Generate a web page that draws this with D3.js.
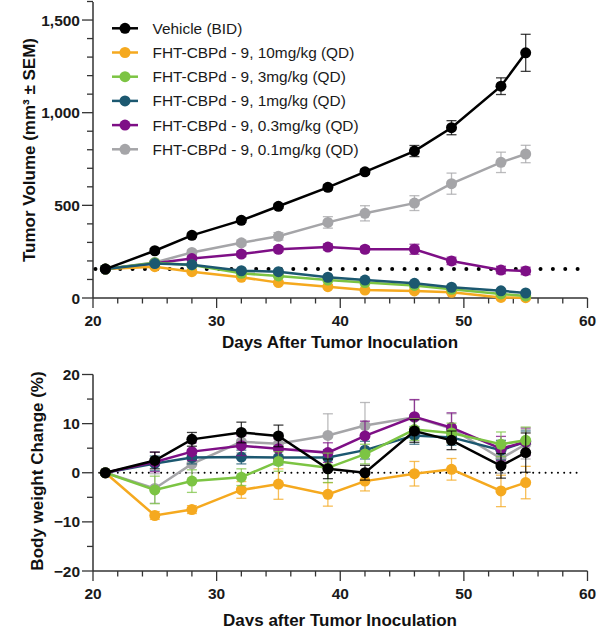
<!DOCTYPE html>
<html>
<head>
<meta charset="utf-8">
<script src="https://cdn.jsdelivr.net/npm/d3@7"></script>
<style>
  body { margin: 0; background: #fff; }
  svg { display: block; font-family: "Liberation Sans", Arial, sans-serif; }
</style>
</head>
<body>
<svg id="chart" width="613" height="626"></svg>
<script>
// days of measurement, shared by both panels
const days = [21, 25, 28, 32, 35, 39, 42, 46, 49, 53, 55];

const groups = ['Vehicle (BID)', 'FHT-CBPd - 9, 10mg/kg (QD)', 'FHT-CBPd - 9, 3mg/kg (QD)',
  'FHT-CBPd - 9, 1mg/kg (QD)', 'FHT-CBPd - 9, 0.3mg/kg (QD)', 'FHT-CBPd - 9, 0.1mg/kg (QD)'];
const colors = ['#000000', '#f5a91f', '#7cc443', '#1c5870', '#7e0f86', '#a5a5a8'];

// tumour volume, mm3
const volVehicle = [156, 255, 338, 419, 495, 597, 681, 793, 919, 1143, 1323];
const volVehicleErr = [8, 12, 12, 12, 12, 14, 14, 30, 38, 45, 100];
const vol10 = [156, 169, 142, 112, 83, 61, 43, 38, 31, 3, 2];
const vol10Err = [6, 8, 8, 7, 6, 6, 5, 5, 5, 3, 3];
const vol3 = [156, 190, 178, 133, 119, 97, 83, 68, 47, 22, 11];
const vol3Err = [6, 10, 9, 8, 7, 7, 6, 6, 6, 4, 4];
const vol1 = [156, 186, 180, 147, 142, 112, 97, 79, 58, 39, 27];
const vol1Err = [6, 9, 8, 8, 8, 7, 7, 7, 6, 5, 5];
const vol03 = [156, 188, 213, 237, 263, 275, 263, 263, 200, 151, 146];
const vol03Err = [6, 10, 12, 14, 14, 16, 15, 27, 20, 20, 20];
const vol01 = [156, 192, 246, 298, 333, 408, 457, 512, 617, 732, 777];
const vol01Err = [6, 10, 12, 15, 20, 31, 41, 40, 57, 55, 47];

// body weight change, %
const bwVehicle = [0, 2.5, 6.8, 8.2, 7.5, 0.8, 0.0, 8.5, 6.6, 1.4, 4.1];
const bwVehicleErr = [0, 1.7, 1.4, 2.1, 2.2, 2.0, 1.5, 2.3, 1.9, 2.5, 4.0];
const bw10 = [0, -8.7, -7.5, -3.5, -2.3, -4.4, -1.7, -0.2, 0.7, -3.7, -2.0];
const bw10Err = [0, 0.8, 0.8, 1.7, 3.1, 2.4, 2.0, 2.5, 2.2, 3.2, 3.3];
const bw3 = [0, -3.5, -1.7, -0.9, 2.3, 1.0, 3.8, 8.8, 8.1, 5.8, 6.6];
const bw3Err = [0, 2.8, 2.3, 1.7, 2.0, 3.0, 2.0, 2.2, 2.0, 2.5, 2.7];
const bw1 = [0, 1.9, 3.1, 3.2, 3.1, 3.1, 4.6, 7.6, 7.2, 4.6, 6.3];
const bw1Err = [0, 1.5, 1.3, 1.4, 1.5, 1.6, 1.8, 1.8, 1.6, 2.0, 2.2];
const bw03 = [0, 2.2, 4.3, 5.5, 4.9, 4.1, 7.5, 11.4, 9.2, 4.9, 6.3];
const bw03Err = [0, 2.0, 1.8, 2.0, 2.0, 2.0, 3.0, 3.5, 3.0, 2.5, 2.8];
const bw01 = [0, -3.2, 1.8, 6.3, 5.9, 7.6, 9.6, 11.3, 9.0, 2.9, 5.8];
const bw01Err = [0, 3.0, 1.8, 2.2, 2.2, 4.4, 4.7, 3.5, 3.0, 3.0, 3.0];

const volSeries = [volVehicle, vol10, vol3, vol1, vol03, vol01];
const volErrs = [volVehicleErr, vol10Err, vol3Err, vol1Err, vol03Err, vol01Err];
const bwSeries = [bwVehicle, bw10, bw3, bw1, bw03, bw01];
const bwErrs = [bwVehicleErr, bw10Err, bw3Err, bw1Err, bw03Err, bw01Err];

const volTicks = [0, 500, 1000, 1500];
const bwTicks = [-20, -10, 0, 10, 20];
const dayTicks = [20, 30, 40, 50, 60];

// draw order, back to front
const topOrder = [5, 4, 1, 2, 3, 0];
const botOrder = [1, 5, 3, 4, 2, 0];

const svg = d3.select('#chart');
const axisColor = '#333';
const tickFont = 15.5;
const titleFont = 17;

const x = d3.scaleLinear().domain([20, 60]).range([93, 587.5]);
const yVol = d3.scaleLinear().domain([0, 1600]).range([298, 1.5]);
const yBw = d3.scaleLinear().domain([-20, 20]).range([571, 374.5]);

function drawAxes (g, y, yMajor, yMinorStep, yFmt, yTop) {
  const x0 = x.range()[0];
  const y0 = y.range()[0];
  // y axis
  g.append('line')
    .attr('x1', x0).attr('x2', x0)
    .attr('y1', y0).attr('y2', yTop)
    .attr('stroke', axisColor).attr('stroke-width', 1.5);
  const [lo, hi] = y.domain();
  d3.range(lo, hi + 0.001, yMinorStep).forEach(v => {
    if (y(v) < yTop - 0.5) { return; }
    const major = yMajor.includes(v);
    g.append('line')
      .attr('x1', x0 - (major ? 11 : 6)).attr('x2', x0)
      .attr('y1', y(v)).attr('y2', y(v))
      .attr('stroke', axisColor).attr('stroke-width', 1.3);
  });
  yMajor.forEach(v => {
    g.append('text')
      .attr('x', x0 - 13).attr('y', y(v) + 5.5)
      .attr('text-anchor', 'end')
      .attr('font-size', tickFont).attr('font-weight', 700)
      .attr('fill', '#1a1a1a')
      .text(yFmt(v));
  });
  // x axis
  g.append('line')
    .attr('x1', x0).attr('x2', x.range()[1])
    .attr('y1', y0).attr('y2', y0)
    .attr('stroke', axisColor).attr('stroke-width', 1.5);
  d3.range(20, 60.001, 2).forEach(d => {
    const major = d % 10 === 0;
    g.append('line')
      .attr('x1', x(d)).attr('x2', x(d))
      .attr('y1', y0).attr('y2', y0 + (major ? 10 : 5.5))
      .attr('stroke', axisColor).attr('stroke-width', 1.3);
  });
  dayTicks.forEach(d => {
    g.append('text')
      .attr('x', x(d)).attr('y', y0 + 28)
      .attr('text-anchor', 'middle')
      .attr('font-size', tickFont).attr('font-weight', 700)
      .attr('fill', '#1a1a1a')
      .text(d);
  });
}

function drawSeries (g, y, series, errs, order, r) {
  order.forEach(i => {
    const pts = days.map((d, k) => ({ d: d, v: series[i][k], e: errs[i][k] }));
    const s = g.append('g');
    // error bars
    pts.forEach(p => {
      if (!p.e) { return; }
      const cx = x(p.d);
      const yt = y(p.v + p.e);
      const yb = y(p.v - p.e);
      s.append('line')
        .attr('x1', cx).attr('x2', cx).attr('y1', yt).attr('y2', yb)
        .attr('stroke', colors[i]).attr('stroke-width', 1.3).attr('opacity', 0.75);
      [yt, yb].forEach(yy => {
        s.append('line')
          .attr('x1', cx - 5).attr('x2', cx + 5).attr('y1', yy).attr('y2', yy)
          .attr('stroke', colors[i]).attr('stroke-width', 1.3).attr('opacity', 0.75);
      });
    });
    s.append('path')
      .datum(pts)
      .attr('d', d3.line().x(p => x(p.d)).y(p => y(p.v)))
      .attr('fill', 'none')
      .attr('stroke', colors[i])
      .attr('stroke-width', 2.5);
    s.selectAll('circle')
      .data(pts)
      .join('circle')
      .attr('cx', p => x(p.d))
      .attr('cy', p => y(p.v))
      .attr('r', r)
      .attr('fill', colors[i]);
  });
}

// ---- top panel: tumour volume
const volPanel = svg.append('g');
drawAxes(volPanel, yVol, volTicks, 100, d3.format(','), 2);

volPanel.append('line')
  .attr('x1', x(20.2)).attr('x2', x(59.3))
  .attr('y1', yVol(volVehicle[0])).attr('y2', yVol(volVehicle[0]))
  .attr('stroke', '#000').attr('stroke-width', 4)
  .attr('stroke-linecap', 'round')
  .attr('stroke-dasharray', `0 ${x(21) - x(20)}`);

drawSeries(volPanel, yVol, volSeries, volErrs, topOrder, 5.5);

volPanel.append('text')
  .attr('transform', `translate(35,150) rotate(-90)`)
  .attr('text-anchor', 'middle')
  .attr('font-size', titleFont).attr('font-weight', 700)
  .attr('fill', '#111')
  .text('Tumor Volume (mm³ ± SEM)');

volPanel.append('text')
  .attr('x', 340).attr('y', 347.5)
  .attr('text-anchor', 'middle')
  .attr('font-size', titleFont).attr('font-weight', 700)
  .attr('fill', '#111')
  .text('Days After Tumor Inoculation');

// legend
const legend = volPanel.append('g');
groups.forEach((name, i) => {
  const ly = 28.3 + i * 24.2;
  legend.append('line')
    .attr('x1', 112).attr('x2', 138).attr('y1', ly).attr('y2', ly)
    .attr('stroke', colors[i]).attr('stroke-width', 2.5);
  legend.append('circle')
    .attr('cx', 125).attr('cy', ly).attr('r', 5.5).attr('fill', colors[i]);
  legend.append('text')
    .attr('x', 152.5).attr('y', ly + 5.5)
    .attr('font-size', 15.4)
    .attr('fill', '#1a1a1a')
    .text(name);
});

// ---- bottom panel: body weight change
const bwPanel = svg.append('g');
drawAxes(bwPanel, yBw, bwTicks, 5, d3.format('d'), yBw(20));

bwPanel.append('line')
  .attr('x1', x(20.5)).attr('x2', x(59.5))
  .attr('y1', yBw(0)).attr('y2', yBw(0))
  .attr('stroke', '#000').attr('stroke-width', 2)
  .attr('stroke-linecap', 'round')
  .attr('stroke-dasharray', '0 6.2');

drawSeries(bwPanel, yBw, bwSeries, bwErrs, botOrder, 5.5);

bwPanel.append('text')
  .attr('transform', `translate(43,471) rotate(-90)`)
  .attr('text-anchor', 'middle')
  .attr('font-size', titleFont).attr('font-weight', 700)
  .attr('fill', '#111')
  .text('Body weight Change (%)');

bwPanel.append('text')
  .attr('x', 340).attr('y', 626)
  .attr('text-anchor', 'middle')
  .attr('font-size', titleFont).attr('font-weight', 700)
  .attr('fill', '#111')
  .text('Days after Tumor Inoculation');
</script>
</body>
</html>
